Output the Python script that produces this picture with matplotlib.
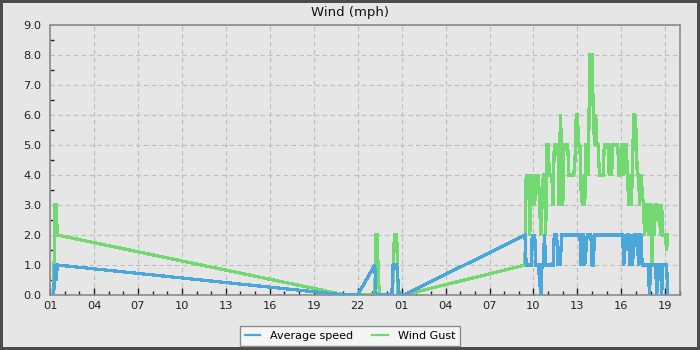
import numpy as np
import matplotlib
matplotlib.use('Agg')
import matplotlib.pyplot as plt
from matplotlib.ticker import MultipleLocator, FixedLocator, FuncFormatter

# archive records, times as "day HH:MM" (day 1 = yesterday)
sparse_times = ['1 01:15', '1 01:20', '1 01:25', '1 01:30',
                '1 21:10', '1 21:30', '1 21:45', '1 22:00',
                '1 23:10', '1 23:15', '1 23:20', '1 23:25', '1 23:30',
                '2 00:10', '2 00:20', '2 00:25', '2 00:30', '2 00:35',
                '2 00:40', '2 00:45', '2 00:50', '2 01:00', '2 01:10']
sparse_avg = [0.0, 1.0, 0.5, 1.0,
              0.0, 0.0, 0.0, 0.0,
              1.0, 0.0, 0.0, 0.0, 0.0,
              0.0, 0.0, 1.0, 1.0, 1.0,
              1.0, 0.5, 0.0, 0.0, 0.0]
sparse_gust = [0.0, 3.0, 3.0, 2.0,
               0.0, 0.0, 0.0, 0.0,
               0.0, 2.0, 2.0, 0.5, 0.0,
               0.0, 0.0, 0.5, 2.0, 2.0,
               2.0, 0.0, 0.0, 0.0, 0.0]

# continuous 5 minute records from 2 09:25 to 2 19:10
block_start = '2 09:25'
block_avg = [
    2.0, 1.0, 1.0, 1.0, 1.0, 1.0, 2.0, 1.5, 2.0, 1.0, 1.0, 1.0,
    0.5, 0.0, 1.0, 1.0, 2.0, 1.0, 1.0, 1.0, 1.0, 1.0, 1.0, 1.0,
    2.0, 2.0, 2.0, 1.0, 1.5, 1.0, 2.0, 2.0, 2.0, 2.0, 2.0, 2.0,
    2.0, 2.0, 2.0, 2.0, 2.0, 2.0, 2.0, 2.0, 2.0, 2.0, 1.0, 2.0,
    2.0, 1.0, 1.5, 2.0, 2.0, 2.0, 2.0, 1.0, 1.0, 2.0, 2.0, 2.0,
    2.0, 2.0, 2.0, 2.0, 2.0, 2.0, 2.0, 2.0, 2.0, 2.0, 2.0, 2.0,
    2.0, 2.0, 2.0, 2.0, 2.0, 2.0, 2.0, 2.0, 2.0, 1.0, 2.0, 1.5,
    2.0, 2.0, 1.0, 2.0, 1.0, 1.5, 2.0, 2.0, 2.0, 1.0, 2.0, 2.0,
    1.0, 1.0, 1.0, 1.0, 1.0, 1.0, 0.0, 1.0, 1.0, 1.0, 1.0, 1.0,
    0.0, 1.0, 1.0, 1.0, 0.0, 1.0, 1.0, 1.0, 1.0, 0.0]
block_gust = [
    1.0, 4.0, 3.5, 4.0, 2.0, 4.0, 3.0, 4.0, 3.0, 4.0, 3.5, 4.0,
    3.0, 2.0, 3.0, 4.0, 4.0, 2.0, 5.0, 5.0, 4.0, 4.0, 4.0, 3.0,
    5.0, 5.0, 5.0, 5.0, 3.0, 6.0, 5.0, 3.0, 5.0, 5.0, 5.0, 5.0,
    4.0, 4.0, 4.0, 4.0, 4.0, 4.5, 6.0, 6.0, 5.0, 5.0, 3.5, 3.0,
    4.0, 3.0, 5.0, 5.0, 4.0, 8.0, 8.0, 8.0, 6.0, 5.0, 6.0, 5.0,
    5.0, 4.0, 4.0, 4.0, 4.0, 5.0, 5.0, 5.0, 5.0, 4.0, 5.0, 4.0,
    5.0, 5.0, 5.0, 5.0, 5.0, 4.0, 4.0, 5.0, 5.0, 4.0, 5.0, 5.0,
    4.0, 3.0, 4.0, 3.0, 4.0, 6.0, 6.0, 5.5, 4.0, 4.0, 3.0, 4.0,
    3.5, 3.0, 2.0, 3.0, 3.0, 2.0, 3.0, 3.0, 1.0, 3.0, 2.0, 3.0,
    3.0, 2.5, 3.0, 2.0, 3.0, 2.0, 2.0, 2.0, 1.5, 2.0]


def hours(stamp):
    day, hm = stamp.split()
    h, m = hm.split(':')
    return 24 * (int(day) - 1) + int(h) + int(m) / 60.0


t0 = hours(block_start)
block_t = [t0 + 5 * k / 60.0 for k in range(len(block_avg))]
t = [hours(s) for s in sparse_times] + block_t
avg = sparse_avg + block_avg
gust = sparse_gust + block_gust

bg = '#e6e6e6'
fig = plt.figure(figsize=(7, 3.5), dpi=100, facecolor=bg,
                 edgecolor='#4b4b4b', linewidth=4)
ax = fig.add_axes([50 / 700, 55 / 350, 630 / 700, 270 / 350])
ax.set_facecolor(bg)

# average drawn over the gusts
ax.plot(t, avg, color='#4ba6d9', lw=1.6, antialiased=False,
        label='Average speed', solid_joinstyle='miter', zorder=3)
ax.plot(t, gust, color='#72d872', lw=1.6, antialiased=False,
        label='Wind Gust', solid_joinstyle='miter', zorder=2)

# hour axis: labels every 3 h starting at 01
ax.set_xlim(1, 44)
ax.set_ylim(0, 9)
ax.xaxis.set_major_locator(FixedLocator(np.arange(1, 45, 3)))
ax.xaxis.set_minor_locator(MultipleLocator(1))
ax.xaxis.set_major_formatter(FuncFormatter(lambda v, p: '%02d' % (int(round(v)) % 24)))
ax.yaxis.set_major_locator(MultipleLocator(1))
ax.yaxis.set_minor_locator(MultipleLocator(0.5))
ax.yaxis.set_major_formatter(FuncFormatter(lambda v, p: '%.1f' % v))

ax.tick_params(which='both', direction='in', colors='#222222', labelsize=8.2,
               top=False, right=False)
ax.tick_params(which='major', length=5, width=1, pad=4)
ax.tick_params(which='minor', length=3, width=1)
ax.tick_params(axis='y', which='major', length=0, pad=6)
ax.grid(True, which='major', color='#bdbdbd', linestyle=(0, (4, 3)), linewidth=0.8)
ax.set_axisbelow(True)
for s in ax.spines.values():
    s.set_color('#8c8c8c')
    s.set_linewidth(1.2)

fig.text(0.5, 0.965, 'Wind (mph)', ha='center', va='center', fontsize=9.5, color='#111111')

leg = fig.legend(loc='center', bbox_to_anchor=(350 / 700, 1 - 336 / 350), ncol=2,
                 fontsize=8, frameon=True, fancybox=False, handlelength=1.4,
                 handletextpad=0.9, columnspacing=1.7, borderpad=0.45)
leg.get_frame().set_facecolor('#f5f5f5')
leg.get_frame().set_edgecolor('#8c8c8c')
leg.get_frame().set_alpha(1)

fig.savefig('out.png', dpi=100, facecolor=bg, edgecolor=fig.get_edgecolor())
